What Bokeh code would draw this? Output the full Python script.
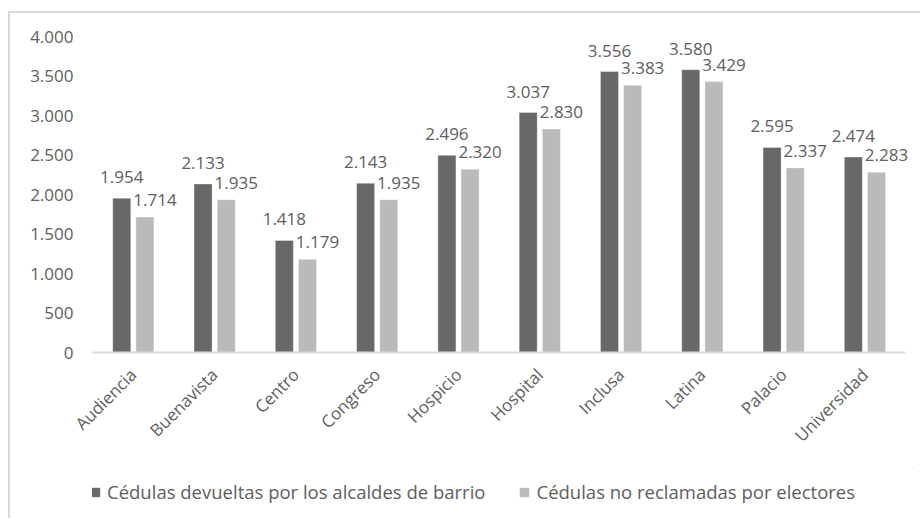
from bokeh.plotting import figure
from bokeh.layouts import column
from bokeh.models import (ColumnDataSource, Range1d, FixedTicker,
                          CustomJSTickFormatter, Legend, LegendItem)
from bokeh.transform import dodge
from bokeh.core.properties import value
from bokeh.embed import file_html
from bokeh.resources import INLINE
import math

categories = ["Audiencia", "Buenavista", "Centro", "Congreso", "Hospicio",
              "Hospital", "Inclusa", "Latina", "Palacio", "Universidad"]
devueltas = [1954, 2133, 1418, 2143, 2496, 3037, 3556, 3580, 2595, 2474]
no_reclamadas = [1714, 1935, 1179, 1935, 2320, 2830, 3383, 3429, 2337, 2283]
y_ticks = [0, 500, 1000, 1500, 2000, 2500, 3000, 3500, 4000]
series_names = ["Cédulas devueltas por los alcaldes de barrio",
                "Cédulas no reclamadas por electores"]


def fmt(v):
    return f"{v:,}".replace(",", ".")


pos = list(range(1, len(categories) + 1))
src = ColumnDataSource(dict(
    pos=pos,
    dark=devueltas,
    light=no_reclamadas,
    dark_lbl=[fmt(v) for v in devueltas],
    light_lbl=[fmt(v) for v in no_reclamadas],
))

FONT = "Open Sans"
TXT = "#606060"
DARK = "#686868"
LIGHT = "#bababa"
FS = "17px"

p = figure(width=910, height=455, x_range=Range1d(0.5, 10.6),
           y_range=Range1d(0, 4000), output_backend="svg",
           toolbar_location=None, min_border_left=82, min_border_top=23,
           min_border_right=7, min_border_bottom=116)
p.outline_line_color = None
p.xgrid.grid_line_color = None
p.ygrid.grid_line_color = None

bar_kw = dict(width=0.222, source=src, line_color="white", line_alpha=0.35,
              line_width=1)
p.vbar(x=dodge("pos", -0.14), top="dark", fill_color=DARK, **bar_kw)
p.vbar(x=dodge("pos", 0.145), top="light", fill_color=LIGHT, **bar_kw)

p.text(x=dodge("pos", -0.14), y="dark", text="dark_lbl",
       source=src, text_align="center", text_baseline="alphabetic",
       y_offset=-21, text_font=value(FONT), text_font_size=FS,
       text_color=TXT)
p.text(x=dodge("pos", 0.145), y="light", text="light_lbl",
       source=src, text_align="center", text_baseline="alphabetic",
       x_offset=10, y_offset=-17, text_font=value(FONT),
       text_font_size=FS, text_color=TXT)

ya = p.yaxis[0]
ya.ticker = FixedTicker(ticks=y_ticks)
ya.formatter = CustomJSTickFormatter(
    code="return tick.toString().replace(/\\B(?=(\\d{3})+(?!\\d))/g, '.');")
ya.axis_line_color = None
ya.major_tick_line_color = None
ya.major_tick_out = 0
ya.minor_tick_line_color = None
ya.minor_tick_out = 0
ya.major_label_standoff = 19
ya.major_label_text_font = FONT
ya.major_label_text_font_size = FS
ya.major_label_text_color = TXT

xa = p.xaxis[0]
xa.ticker = FixedTicker(ticks=pos)
xa.major_label_overrides = {k: c for k, c in zip(pos, categories)}
xa.bounds = (0.5, 10.5)
xa.axis_line_color = "#d9d9d9"
xa.axis_line_width = 2
xa.major_tick_line_color = None
xa.major_tick_out = 0
xa.minor_tick_line_color = None
xa.minor_tick_out = 0
xa.major_label_orientation = math.pi / 4
xa.major_label_standoff = 19
xa.major_label_text_font = FONT
xa.major_label_text_font_size = FS
xa.major_label_text_color = TXT

# legend strip (its bars sit far outside its visible range, only the legend shows)
lg = figure(width=910, height=50, x_range=Range1d(-1000, -999),
            y_range=Range1d(-100000, -99999), output_backend="svg",
            toolbar_location=None, x_axis_type=None, y_axis_type=None,
            min_border=0)
lg.outline_line_color = None
lg.xgrid.grid_line_color = None
lg.ygrid.grid_line_color = None
l1 = lg.vbar(x="pos", top="dark", fill_color=DARK, **bar_kw)
l2 = lg.vbar(x="pos", top="light", fill_color=LIGHT, **bar_kw)
legend = Legend(items=[LegendItem(label=series_names[0], renderers=[l1]),
                       LegendItem(label=series_names[1], renderers=[l2])],
                orientation="horizontal", location=(-3, 14),
                padding=0, margin=0, spacing=33, glyph_width=12,
                glyph_height=12, label_standoff=6,
                border_line_color=None, background_fill_alpha=0,
                label_text_font=FONT, label_text_font_size="18.5px",
                label_text_color=TXT)
lg.add_layout(legend, "center")

layout = column(p, lg, spacing=0)
layout.margin = (11, 0, 0, 8)
layout.styles = {"border-top": "2px solid #d9d9d9",
                 "border-left": "2px solid #d9d9d9"}

open("out.html", "w").write(file_html(layout, INLINE))
